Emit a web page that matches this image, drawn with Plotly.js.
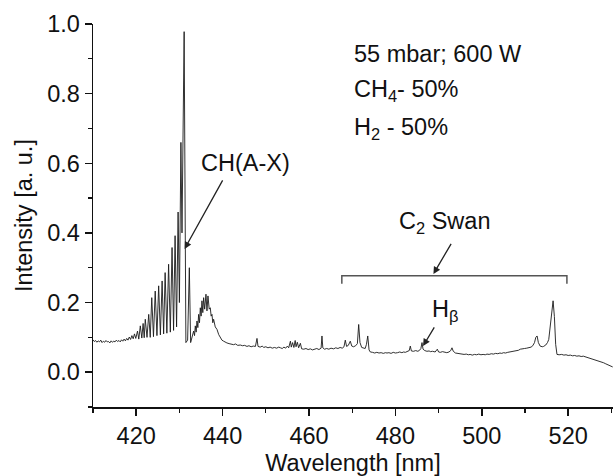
<!DOCTYPE html>
<html>
<head>
<meta charset="utf-8">
<script src="https://cdn.plot.ly/plotly-3.0.1.min.js"></script>
<style>html,body{margin:0;padding:0;background:#fff;}#chart{width:613px;height:476px;}</style>
</head>
<body>
<div id="chart"></div>
<script>
// Emission spectrum (wavelength in nm, intensity in a.u.)
const wavelength = [
  410.0,410.3,410.6,410.9,411.2,411.5,411.8,412.1,412.4,412.7,413.0,413.3,413.6,413.9,414.2,414.5,414.8,415.1,415.4,415.7,
  416.0,416.3,416.6,416.9,417.2,417.5,417.8,418.1,418.4,418.7,419.0,419.3,419.6,419.9,
  420.3,420.6,420.95,421.3,421.6,421.85,422.1,422.5,422.9,423.25,423.6,424.0,424.4,424.8,425.2,425.6,426.0,426.35,
  426.7,427.1,427.5,427.9,428.3,428.65,429.0,429.35,429.7,430.0,430.35,430.6,431.1,
  431.5,431.9,432.3,432.6,432.9,433.29,433.5,433.68,433.88,434.07,434.27,434.45,434.65,434.84,435.03,435.22,435.42,
  435.61,435.85,436.15,436.38,436.61,436.9,437.15,437.35,437.54,437.73,437.92,438.3,438.7,439.1,439.47,439.85,440.24,
  440.6,441.0,441.5,442.0,442.55,443.0,443.5,444.1,444.6,445.1,445.64,446.1,446.6,447.1,447.6,447.96,448.2,448.7,
  449.2,449.5,450.0,450.5,451.0,451.5,452.0,452.5,453.0,
  453.4,453.8,454.2,454.6,455.0,455.3,455.7,455.9,456.2,456.5,456.8,457.0,457.3,457.6,458.0,458.3,458.8,459.3,459.8,
  460.3,460.8,461.3,461.8,462.3,462.8,463.0,463.2,463.6,464.1,464.6,465.1,465.7,466.2,466.7,467.2,467.7,468.1,468.4,
  468.7,469.1,469.56,469.9,470.3,470.8,471.2,471.5,471.8,472.2,472.65,473.0,473.3,473.6,473.9,474.2,474.7,475.2,
  475.7,476.2,476.7,477.2,477.7,478.05,478.5,479.0,479.5,480.0,480.5,481.0,481.5,481.9,482.3,482.8,483.2,483.45,
  483.7,484.2,484.7,485.2,485.6,485.9,486.16,486.4,486.8,487.3,487.8,488.1,488.6,489.2,489.7,490.0,490.4,490.9,
  491.4,491.9,492.4,492.8,493.1,493.4,493.9,494.4,494.9,495.4,495.9,496.4,496.9,497.3,497.8,498.3,498.8,499.3,
  499.8,500.3,500.8,501.2,501.7,502.2,502.7,503.2,503.7,504.2,504.6,505.05,505.5,506.0,506.5,507.0,507.5,508.0,
  508.5,508.9,509.4,509.9,510.4,510.9,511.4,511.8,512.2,512.5,512.8,513.1,513.5,514.0,514.3,514.8,515.2,515.5,
  515.9,516.2,516.5,516.8,517.1,517.4,517.9,518.5,519.0,519.5,520.0,520.5,521.0,521.5,522.0,522.5,523.0,523.5,
  524.0,524.35,524.8,525.3,525.8,526.3,526.8,527.3,527.8,528.2,528.7,529.2,529.75,530.3
];
const intensity = [
  0.093,0.088,0.091,0.086,0.090,0.087,0.092,0.085,0.089,0.086,0.091,0.087,0.088,0.084,0.090,0.086,0.089,0.087,0.092,0.088,
  0.091,0.087,0.093,0.089,0.095,0.090,0.097,0.092,0.101,0.094,0.105,0.096,0.110,0.097,
  0.118,0.095,0.133,0.098,0.140,0.099,0.152,0.100,0.166,0.100,0.214,0.102,0.233,0.105,0.248,0.107,0.262,0.110,
  0.286,0.112,0.310,0.115,0.358,0.120,0.392,0.130,0.460,0.200,0.660,0.400,0.978,
  0.085,0.092,0.300,0.085,0.100,0.118,0.105,0.133,0.115,0.147,0.128,0.166,0.142,0.185,0.161,0.205,0.171,
  0.214,0.181,0.224,0.176,0.219,0.181,0.185,0.161,0.166,0.142,0.152,0.130,0.123,0.108,0.099,0.092,0.089,
  0.086,0.084,0.082,0.080,0.079,0.081,0.077,0.078,0.076,0.077,0.074,0.076,0.073,0.075,0.074,0.097,0.074,0.072,
  0.075,0.071,0.073,0.070,0.072,0.069,0.071,0.069,0.072,
  0.070,0.068,0.072,0.069,0.075,0.070,0.089,0.072,0.085,0.071,0.091,0.073,0.086,0.070,0.083,0.067,0.066,0.068,0.065,
  0.067,0.064,0.066,0.068,0.065,0.069,0.104,0.070,0.066,0.068,0.066,0.069,0.067,0.070,0.068,0.071,0.069,0.073,0.092,
  0.074,0.077,0.089,0.075,0.073,0.076,0.082,0.137,0.085,0.071,0.069,0.068,0.080,0.104,0.064,0.058,0.057,0.055,
  0.057,0.055,0.056,0.054,0.056,0.055,0.056,0.054,0.057,0.055,0.056,0.058,0.056,0.058,0.057,0.060,0.062,0.075,
  0.061,0.060,0.062,0.060,0.063,0.068,0.085,0.066,0.062,0.060,0.061,0.059,0.060,0.058,0.066,0.058,0.057,0.059,
  0.057,0.056,0.058,0.062,0.070,0.060,0.055,0.054,0.052,0.053,0.051,0.052,0.050,0.051,0.049,0.051,0.050,0.052,
  0.050,0.051,0.050,0.052,0.051,0.053,0.052,0.054,0.053,0.055,0.054,0.056,0.055,0.057,0.058,0.060,0.059,0.062,
  0.063,0.066,0.066,0.068,0.069,0.071,0.072,0.076,0.085,0.100,0.104,0.085,0.075,0.073,0.074,0.078,0.085,0.094,
  0.140,0.190,0.205,0.160,0.080,0.051,0.050,0.051,0.049,0.050,0.048,0.049,0.047,0.048,0.046,0.047,0.045,0.046,
  0.044,0.043,0.042,0.040,0.038,0.036,0.034,0.032,0.029,0.027,0.024,0.021,0.017,0.015
];

// Axis ticks
const xTicks = [420, 440, 460, 480, 500, 520];
const yTicks = [0.0, 0.2, 0.4, 0.6, 0.8, 1.0];

// Annotation texts
const conditionLines = ["55 mbar; 600 W", "CH<sub>4</sub>- 50%", "H<sub>2</sub> - 50%"];
const conditionY = [0.913, 0.808, 0.700];
const chLabel = "CH(A-X)";
const swanLabel = "C<sub>2</sub> Swan";
const hbetaLabel = "H<sub>β</sub>";
// C2 Swan bracket: [start, end] wavelengths and [foot, top] heights
const swanBracketX = [467.6, 519.7];
const swanBracketY = [0.254, 0.277];

const FONT = "Liberation Sans, Arial, sans-serif";
const fs = 23.5;

const trace = {
  x: wavelength, y: intensity, type: 'scatter', mode: 'lines',
  line: {color: '#1a1a1a', width: 0.9}, hoverinfo: 'skip', showlegend: false
};

const annotations = [];
conditionLines.forEach((t, i) => {
  annotations.push({x: 470, y: conditionY[i], xref: 'x', yref: 'y', text: t, showarrow: false,
    xanchor: 'left', yanchor: 'middle', font: {family: FONT, size: fs, color: '#111'}});
});
annotations.push({x: 445.25, y: 0.60, xref: 'x', yref: 'y', text: chLabel, showarrow: false,
  xanchor: 'center', yanchor: 'middle', font: {family: FONT, size: fs, color: '#111'}});
annotations.push({x: 431.2, y: 0.354, xref: 'x', yref: 'y', ax: 440.2, ay: 0.555, axref: 'x', ayref: 'y',
  text: '', showarrow: true, arrowhead: 2, arrowsize: 1.1, arrowwidth: 1.3, arrowcolor: '#222', standoff: 0, startstandoff: 0});
annotations.push({x: 491.3, y: 0.429, xref: 'x', yref: 'y', text: swanLabel, showarrow: false,
  xanchor: 'center', yanchor: 'middle', font: {family: FONT, size: fs, color: '#111'}});
annotations.push({x: 488.8, y: 0.282, xref: 'x', yref: 'y', ax: 493.1, ay: 0.373, axref: 'x', ayref: 'y',
  text: '', showarrow: true, arrowhead: 2, arrowsize: 1.1, arrowwidth: 1.3, arrowcolor: '#222', standoff: 0, startstandoff: 0});
annotations.push({x: 487.9, y: 0.176, xref: 'x', yref: 'y', text: hbetaLabel, showarrow: false,
  xanchor: 'left', yanchor: 'middle', font: {family: FONT, size: fs, color: '#111'}});
annotations.push({x: 486.4, y: 0.075, xref: 'x', yref: 'y', ax: 489.2, ay: 0.133, axref: 'x', ayref: 'y',
  text: '', showarrow: true, arrowhead: 2, arrowsize: 1.1, arrowwidth: 1.3, arrowcolor: '#222', standoff: 0, startstandoff: 0});

const shapes = [{
  type: 'path', xref: 'x', yref: 'y',
  path: `M ${swanBracketX[0]},${swanBracketY[0]} L ${swanBracketX[0]},${swanBracketY[1]} L ${swanBracketX[1]},${swanBracketY[1]} L ${swanBracketX[1]},${swanBracketY[0]}`,
  line: {color: '#555', width: 1.5}
}];

const axisCommon = {
  showgrid: false, zeroline: false, showline: true, linecolor: '#111', linewidth: 1.5,
  ticks: 'outside', ticklen: 7, tickwidth: 1.5, tickcolor: '#111',
  tickfont: {family: FONT, size: fs, color: '#111'}, mirror: false
};

const layout = {
  width: 613, height: 476,
  margin: {l: 93, r: 0, t: 24, b: 69},
  paper_bgcolor: '#fff', plot_bgcolor: '#fff',
  font: {family: FONT, size: fs, color: '#111'},
  xaxis: Object.assign({}, axisCommon, {
    range: [410, 530.37], tickvals: xTicks, ticktext: xTicks.map(String),
    minor: {dtick: 10, tick0: 410, ticks: 'outside', ticklen: 4, tickwidth: 1.2, tickcolor: '#111'},
    title: {text: 'Wavelength [nm]', font: {family: FONT, size: fs, color: '#111'}, standoff: 8}
  }),
  yaxis: Object.assign({}, axisCommon, {
    range: [-0.1, 1.0], tickvals: yTicks, ticktext: yTicks.map(v => v.toFixed(1)),
    minor: {dtick: 0.1, tick0: 0, ticks: 'outside', ticklen: 4, tickwidth: 1.2, tickcolor: '#111'},
    title: {text: 'Intensity [a. u.]', font: {family: FONT, size: fs, color: '#111'}, standoff: 8}
  }),
  annotations: annotations,
  shapes: shapes,
  showlegend: false
};

Plotly.newPlot('chart', [trace], layout, {staticPlot: true, displayModeBar: false});
</script>
</body>
</html>
